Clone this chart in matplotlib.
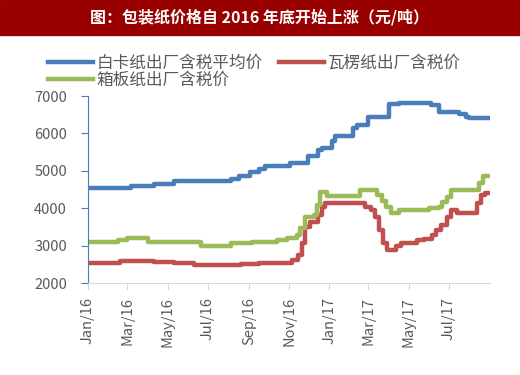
import matplotlib
matplotlib.use('Agg')
import matplotlib.pyplot as plt
import matplotlib.dates as mdates
from matplotlib.patches import Rectangle
import pandas as pd

plt.rcParams['font.family'] = ['Noto Sans CJK SC', 'DejaVu Sans']

# 白卡纸出厂含税平均价 (step changes)
white_dates = ['2016-01-01', '2016-03-06', '2016-04-10', '2016-05-10', '2016-08-05', '2016-08-17',
               '2016-09-02', '2016-09-17', '2016-09-25', '2016-11-02', '2016-11-29', '2016-12-14',
               '2016-12-20', '2017-01-05', '2017-01-10', '2017-02-06', '2017-02-12', '2017-03-01',
               '2017-04-01', '2017-04-16', '2017-06-04', '2017-06-16', '2017-07-16', '2017-07-27',
               '2017-08-01', '2017-09-01']
white_vals = [4550, 4600, 4650, 4720, 4780, 4860, 4960, 5050, 5130, 5220, 5400, 5550,
              5600, 5800, 5930, 6150, 6220, 6450, 6790, 6820, 6760, 6570, 6520, 6450,
              6410, 6410]

# 瓦楞纸出厂含税价
corr_dates = ['2016-01-01', '2016-02-18', '2016-04-10', '2016-05-10', '2016-06-10', '2016-08-20',
              '2016-09-17', '2016-11-06', '2016-11-14', '2016-11-20', '2016-11-25', '2016-12-02',
              '2016-12-14', '2016-12-20', '2016-12-26', '2017-02-24', '2017-03-05', '2017-03-11',
              '2017-03-17', '2017-03-23', '2017-03-29', '2017-04-12', '2017-04-19', '2017-05-13',
              '2017-05-24', '2017-06-05', '2017-06-11', '2017-06-19', '2017-06-28', '2017-07-04',
              '2017-07-13', '2017-08-13', '2017-08-19', '2017-08-25', '2017-09-01']
corr_vals = [2550, 2600, 2570, 2540, 2490, 2510, 2530, 2610, 2750, 3060, 3500, 3640,
             3820, 4040, 4150, 4040, 3950, 3770, 3420, 3060, 2880, 2990, 3060, 3150,
             3190, 3280, 3420, 3550, 3760, 3950, 3880, 4130, 4350, 4410, 4410]

# 箱板纸出厂含税价
box_dates = ['2016-01-01', '2016-02-15', '2016-03-01', '2016-04-01', '2016-06-21', '2016-08-05',
             '2016-09-05', '2016-10-13', '2016-10-28', '2016-11-13', '2016-11-17', '2016-11-25',
             '2016-12-08', '2016-12-13', '2016-12-17', '2016-12-28', '2017-02-16', '2017-03-14',
             '2017-03-21', '2017-03-27', '2017-04-04', '2017-04-16', '2017-06-01', '2017-06-16',
             '2017-06-21', '2017-06-28', '2017-07-04', '2017-08-16', '2017-08-21', '2017-09-01']
box_vals = [3100, 3150, 3210, 3110, 3000, 3060, 3110, 3150, 3200, 3280, 3470, 3770,
            3820, 4090, 4430, 4330, 4490, 4350, 4200, 4040, 3880, 3950, 4000, 4040,
            4170, 4290, 4490, 4670, 4850, 4850]

tick_dates = ['2016-01-01', '2016-03-01', '2016-05-01', '2016-07-01', '2016-09-01', '2016-11-01',
              '2017-01-01', '2017-03-01', '2017-05-01', '2017-07-01']

fig = plt.figure(figsize=(5.2, 3.75), dpi=100)
ax = fig.add_axes([0.169, 0.245, 0.773, 0.499])

l1, = ax.plot(pd.to_datetime(white_dates), white_vals, drawstyle='steps-post', color='#4a7ebb', lw=3.2,
              label='白卡纸出厂含税平均价')
l2, = ax.plot(pd.to_datetime(corr_dates), corr_vals, drawstyle='steps-post', color='#c0504d', lw=3.2,
              label='瓦楞纸出厂含税价')
l3, = ax.plot(pd.to_datetime(box_dates), box_vals, drawstyle='steps-post', color='#9bbb59', lw=3.2,
              label='箱板纸出厂含税价')

ax.set_ylim(2000, 7000)
ax.set_yticks([2000, 3000, 4000, 5000, 6000, 7000])
ax.set_xlim(pd.Timestamp('2016-01-01'), pd.Timestamp('2017-09-01'))
ax.set_xticks(pd.to_datetime(tick_dates))
ax.xaxis.set_major_formatter(mdates.DateFormatter('%b/%y'))
plt.setp(ax.get_xticklabels(), rotation=90)

for s in ['top', 'right']:
    ax.spines[s].set_visible(False)
ax.spines['left'].set_color('#4a7ebb')
ax.spines['bottom'].set_color('#d9d9d9')
ax.tick_params(axis='y', colors='#4a7ebb', labelcolor='#595959', length=5, pad=10, labelsize=10.5)
ax.tick_params(axis='x', colors='#d9d9d9', labelcolor='#595959', length=5, pad=5, labelsize=10.5)

# title bar
fig.patches.append(Rectangle((0, 0.907), 1, 0.093, transform=fig.transFigure, color='#990000', zorder=0))
fig.text(0.5, 0.953, '图：包装纸价格自 2016 年底开始上涨（元/吨）', color='white', fontsize=11.5,
         fontweight='bold', ha='center', va='center')

fig.legend(handles=[l1, l3, l2], loc='upper left', bbox_to_anchor=(0.092, 0.853), ncol=2,
           frameon=False, fontsize=12, labelcolor='#595959', handlelength=2.7, handletextpad=0.2,
           columnspacing=1.0, labelspacing=0.0, borderpad=0, borderaxespad=0)

fig.savefig('out.png', dpi=100)
